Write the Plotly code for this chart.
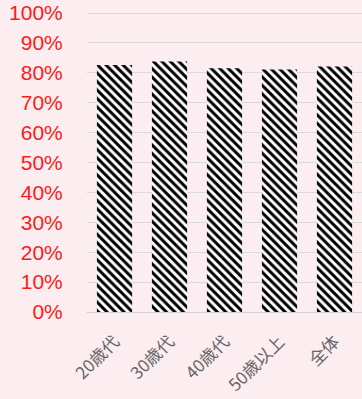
import plotly.graph_objects as go

categories = ["20歳代", "30歳代", "40歳代", "50歳以上", "全体"]
values = [82.6, 83.8, 81.5, 81.1, 82.1]
y_ticks = [0, 10, 20, 30, 40, 50, 60, 70, 80, 90, 100]
y_tick_labels = [f"{v}%" for v in y_ticks]

fig = go.Figure(
    go.Bar(
        x=categories,
        y=values,
        marker=dict(
            color="white",
            line=dict(width=0),
            pattern=dict(shape="\\", fgcolor="black", bgcolor="white",
                         size=6, solidity=0.5, fillmode="replace"),
        ),
        hoverinfo="skip",
    )
)

fig.update_layout(
    width=362, height=399,
    margin=dict(l=87, r=0, t=12, b=87),
    paper_bgcolor="#FCEDF0",
    plot_bgcolor="#FCEDF0",
    bargap=0.36,
    showlegend=False,
    font=dict(family="Liberation Sans, Arial, sans-serif"),
)
fig.update_yaxes(
    range=[0, 100.35],
    tickvals=y_ticks,
    ticktext=y_tick_labels,
    tickfont=dict(color="#FF1A1A", size=21, family="Liberation Sans, Arial, sans-serif"),
    showgrid=True, gridcolor="#DADADA", gridwidth=1,
    zeroline=False,
    ticks="outside", ticklen=19, tickcolor="rgba(0,0,0,0)",
    showline=False,
)
fig.update_xaxes(
    tickangle=-45,
    tickfont=dict(color="#666666", size=17, family="Noto Sans CJK JP, sans-serif"),
    showline=True, linecolor="#D0D0D0", linewidth=1,
    ticks="outside", ticklen=12, tickcolor="rgba(0,0,0,0)",
    showgrid=False,
)

fig.write_html("out.html")
